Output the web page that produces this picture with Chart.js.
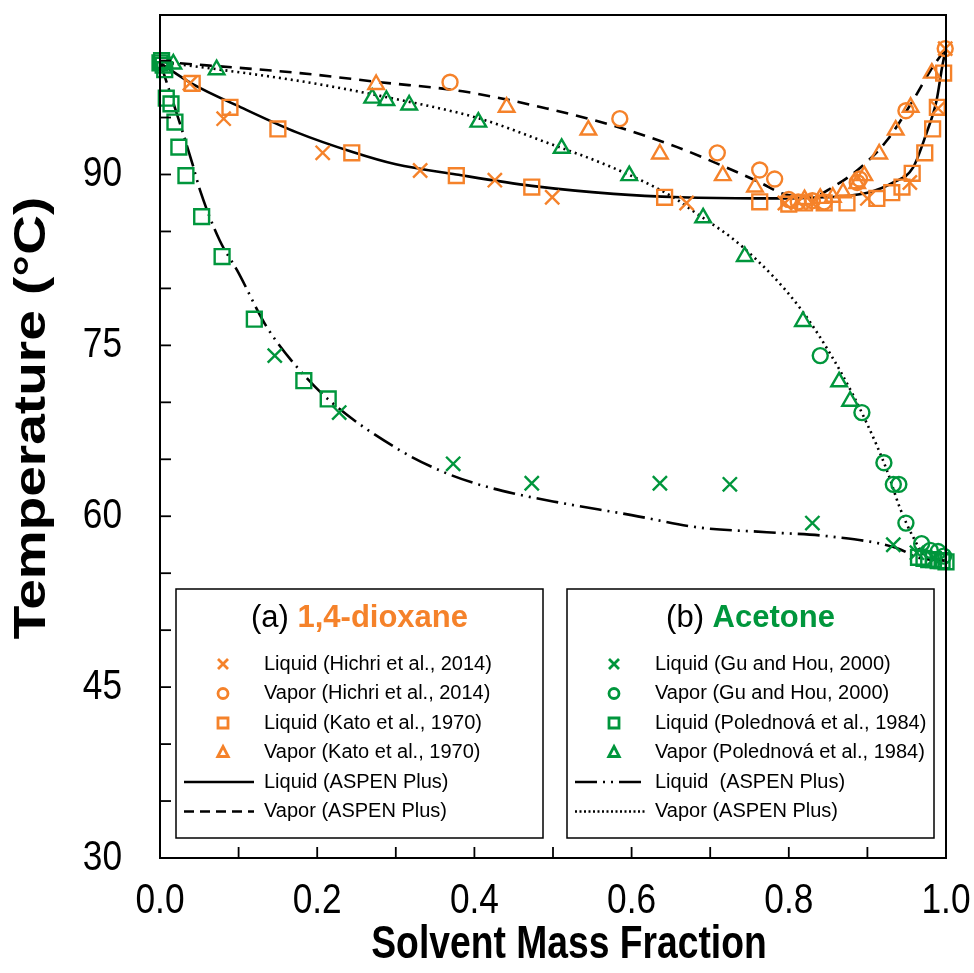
<!DOCTYPE html>
<html><head><meta charset="utf-8">
<script src="https://cdn.jsdelivr.net/npm/chart.js@4.4.1/dist/chart.umd.min.js"></script>
<style>html,body{margin:0;padding:0;background:#fff}#wrap{width:974px;height:973px;position:relative}</style>
</head><body><div id="wrap"><canvas id="c"></canvas></div>
<script>
// ---------- data ----------
const ORANGE = '#F5822A';
const GREEN = '#00963C';

// 1,4-dioxane
const dioxLiqHichriX = [0.038,0.081,0.207,0.331,0.426,0.499,0.670,0.795,0.812,0.830,0.900,0.954,0.990,0.999];
const dioxLiqHichriY = [98.0,94.9,91.9,90.35,89.5,88.0,87.5,87.5,87.6,87.5,87.9,89.3,95.8,101.05];
const dioxVapHichriX = [0.369,0.585,0.709,0.763,0.782,0.800,0.812,0.830,0.845,0.887,0.890,0.949,0.999];
const dioxVapHichriY = [98.1,94.9,91.9,90.4,89.6,87.8,87.6,87.7,87.6,89.3,89.6,95.6,101.05];
const dioxLiqKatoX = [0.041,0.089,0.150,0.244,0.377,0.473,0.642,0.763,0.800,0.820,0.845,0.874,0.912,0.931,0.944,0.957,0.973,0.983,0.989,0.997];
const dioxLiqKatoY = [98.0,95.9,94.0,91.9,89.9,88.9,88.0,87.6,87.4,87.5,87.5,87.5,87.9,88.4,88.9,90.1,91.9,94.0,95.9,98.9];
const dioxVapKatoX = [0.275,0.441,0.545,0.636,0.716,0.757,0.820,0.840,0.856,0.869,0.887,0.896,0.915,0.936,0.955,0.982];
const dioxVapKatoY = [97.9,95.9,93.9,91.8,89.9,88.9,87.8,87.9,88.0,88.4,89.2,89.9,91.8,93.9,95.9,98.9];
const dioxLiqAspenX = [0,0.04,0.106,0.174,0.244,0.30,0.377,0.473,0.577,0.662,0.76,0.82,0.90,0.933,0.958,0.975,0.988,0.995,1.0];
const dioxLiqAspenY = [99.8,98.0,95.8,93.7,92.0,90.9,90.0,89.0,88.3,88.0,87.9,87.95,88.4,89.3,90.6,93.6,96.5,99.4,101.1];
const dioxVapAspenX = [0,0.178,0.28,0.385,0.492,0.576,0.658,0.721,0.763,0.793,0.827,0.856,0.891,0.925,0.958,0.980,1.0];
const dioxVapAspenY = [99.9,98.9,98.1,97.3,95.8,94.3,92.4,90.6,89.3,88.3,88.0,88.9,90.6,93.0,96.5,99.1,101.1];

// acetone
const aceLiqGuX = [0.146,0.228,0.373,0.473,0.636,0.725,0.830,0.933,0.963,0.985];
const aceLiqGuY = [74.1,69.1,64.6,62.9,62.9,62.8,59.4,57.5,56.8,56.3];
const aceVapGuX = [0.840,0.893,0.921,0.933,0.940,0.949,0.969,0.980,0.990,0.997];
const aceVapGuY = [74.1,69.1,64.7,62.8,62.8,59.4,57.6,57.0,56.9,56.5];
const aceLiqPoledX = [0.0,0.002,0.004,0.006,0.008,0.014,0.019,0.024,0.033,0.053,0.079,0.120,0.183,0.214,0.965,0.972,0.978,0.984,0.990,0.995,1.0];
const aceLiqPoledY = [99.8,100.0,99.6,99.2,96.7,96.2,94.6,92.4,89.9,86.3,82.8,77.3,71.9,70.3,56.4,56.3,56.2,56.2,56.1,56.1,56.0];
const aceVapPoledX = [0.017,0.072,0.270,0.288,0.317,0.405,0.511,0.597,0.691,0.744,0.818,0.864,0.878];
const aceVapPoledY = [99.7,99.2,96.7,96.5,96.1,94.6,92.3,89.9,86.2,82.8,77.1,71.8,70.1];
const aceLiqAspenX = [0,0.028,0.041,0.051,0.076,0.098,0.136,0.178,0.22,0.305,0.36,0.4,0.45,0.5,0.6,0.687,0.772,0.856,0.938,0.963,1.0];
const aceLiqAspenY = [99.9,93.9,91.0,88.6,84.2,81.6,76.6,72.8,69.9,65.8,63.9,62.9,62.0,61.3,60.1,59.0,58.6,58.2,57.2,56.4,56.1];
const aceVapAspenX = [0,0.178,0.28,0.407,0.492,0.576,0.653,0.678,0.742,0.814,0.865,0.899,0.925,0.941,0.958,0.975,1.0];
const aceVapAspenY = [99.9,98.2,96.9,94.9,92.8,90.6,88.0,86.8,83.6,78.3,72.8,68.2,64.0,60.8,58.2,56.4,56.1];

const xTickLabels = ['0.0','0.2','0.4','0.6','0.8','1.0'];
const yTickLabels = ['30','45','60','75','90'];
const xTitle = 'Solvent Mass Fraction';
const yTitle = 'Temperature (°C)';

const legendA = {prefix:'(a) ', name:'1,4-dioxane', color:ORANGE, items:[
  {mk:'x',  text:'Liquid (Hichri et al., 2014)'},
  {mk:'o',  text:'Vapor (Hichri et al., 2014)'},
  {mk:'s',  text:'Liquid (Kato et al., 1970)'},
  {mk:'t',  text:'Vapor (Kato et al., 1970)'},
  {ln:[],   text:'Liquid (ASPEN Plus)'},
  {ln:[10,6], text:'Vapor (ASPEN Plus)'}]};
const legendB = {prefix:'(b) ', name:'Acetone', color:GREEN, items:[
  {mk:'x',  text:'Liquid (Gu and Hou, 2000)'},
  {mk:'o',  text:'Vapor (Gu and Hou, 2000)'},
  {mk:'s',  text:'Liquid (Polednová et al., 1984)'},
  {mk:'t',  text:'Vapor (Polednová et al., 1984)'},
  {ln:[22,6,2,6,2,6], text:'Liquid  (ASPEN Plus)'},
  {ln:[2,2.5], text:'Vapor (ASPEN Plus)'}]};

// ---------- helpers ----------
const pts = (xs, ys) => xs.map((x, i) => ({x, y: ys[i]}));
function markers(label, xs, ys, color, style, r) {
  return {type:'scatter', label, data:pts(xs, ys), showLine:false, pointStyle:style, pointRadius:r,
    pointHoverRadius:r, borderColor:color, backgroundColor:'rgba(0,0,0,0)', pointBorderWidth:2.4, borderWidth:2.4, clip:false};
}
function curve(label, xs, ys, dash) {
  return {type:'line', label, data:pts(xs, ys), showLine:true, pointRadius:0, borderColor:'#000', borderWidth:2.6,
    borderDash:dash, cubicInterpolationMode:'monotone', fill:false, clip:false};
}

const FONTW = "'Liberation Sans', Arial, sans-serif";
const SX = 0.84; // horizontal squeeze of the figure's fonts

function sText(ctx, text, x, y, font, sx, align, baseline) {
  ctx.save(); ctx.translate(x, y); ctx.scale(sx, 1);
  ctx.font = font; ctx.textAlign = align; ctx.textBaseline = baseline; ctx.fillStyle = '#000';
  ctx.fillText(text, 0, 0); ctx.restore();
}

const framePlugin = {
  id:'frame',
  afterDraw(chart) {
    const ctx = chart.ctx, a = chart.chartArea;
    const xs = chart.scales.x, ys = chart.scales.y;
    ctx.save();
    ctx.strokeStyle = '#000'; ctx.lineWidth = 2;
    ctx.strokeRect(a.left, a.top, a.right - a.left, a.bottom - a.top);
    ctx.lineWidth = 1.8;
    ys.ticks.forEach(t => { if (t.value <= 100 && t.value > 30) { const p = ys.getPixelForValue(t.value);
      ctx.beginPath(); ctx.moveTo(a.left, p); ctx.lineTo(a.left + 11, p); ctx.stroke(); }});
    xs.ticks.forEach(t => { if (t.value > 0.001 && t.value < 0.999) { const p = xs.getPixelForValue(t.value);
      ctx.beginPath(); ctx.moveTo(p, a.bottom); ctx.lineTo(p, a.bottom - 11); ctx.stroke(); }});
    // tick labels
    ys.ticks.forEach(t => { const lab = yTickLabels.find(s => Number(s) === t.value);
      if (lab) sText(ctx, lab, a.left - 38, ys.getPixelForValue(t.value), '42px ' + FONTW, SX, 'right', 'middle'); });
    xs.ticks.forEach(t => { const k = Math.round(t.value * 10);
      if (k % 2 === 0) sText(ctx, xTickLabels[k / 2], xs.getPixelForValue(t.value), a.bottom + 43, '42px ' + FONTW, SX, 'center', 'middle'); });
    // axis titles
    sText(ctx, xTitle, 569, 945, 'bold 46px ' + FONTW, 0.81, 'center', 'middle');
    ctx.save(); ctx.translate(33, 418); ctx.rotate(-Math.PI / 2); ctx.scale(1, 0.82);
    ctx.font = 'bold 55px ' + FONTW; ctx.textAlign = 'center'; ctx.textBaseline = 'middle'; ctx.fillStyle = '#000';
    ctx.fillText(yTitle, 0, 0); ctx.restore();
    // legends
    drawLegend(ctx, legendA, 176, 589, 543, 838);
    drawLegend(ctx, legendB, 567, 589, 934, 838);
    ctx.restore();
  }
};

function drawMk(ctx, mk, x, y, color, s) {
  ctx.save(); ctx.strokeStyle = color; ctx.lineWidth = 2.8; ctx.beginPath();
  if (mk === 'x') { ctx.moveTo(x - s, y - s); ctx.lineTo(x + s, y + s); ctx.moveTo(x + s, y - s); ctx.lineTo(x - s, y + s); }
  else if (mk === 'o') { ctx.arc(x, y, s, 0, Math.PI * 2); }
  else if (mk === 's') { ctx.rect(x - s, y - s, 2 * s, 2 * s); }
  else if (mk === 't') { ctx.moveTo(x, y - s * 1.2); ctx.lineTo(x + s * 1.05, y + s * 0.8); ctx.lineTo(x - s * 1.05, y + s * 0.8); ctx.closePath(); }
  ctx.stroke(); ctx.restore();
}

function drawLegend(ctx, L, x0, y0, x1, y1) {
  ctx.save();
  ctx.fillStyle = '#fff'; ctx.fillRect(x0, y0, x1 - x0, y1 - y0);
  ctx.strokeStyle = '#000'; ctx.lineWidth = 1.5; ctx.strokeRect(x0, y0, x1 - x0, y1 - y0);
  ctx.textBaseline = 'middle';
  ctx.font = "31px " + FONTW;
  const w1 = ctx.measureText(L.prefix).width;
  ctx.font = "bold 31px " + FONTW;
  const w2 = ctx.measureText(L.name).width;
  const cx = (x0 + x1) / 2, hx = cx - (w1 + w2) / 2, hy = y0 + 29;
  ctx.font = "31px " + FONTW; ctx.fillStyle = '#000'; ctx.textAlign = 'left';
  ctx.fillText(L.prefix, hx, hy);
  ctx.font = "bold 31px " + FONTW; ctx.fillStyle = L.color;
  ctx.fillText(L.name, hx + w1, hy);
  ctx.font = "20px " + FONTW;
  L.items.forEach((it, i) => {
    const ry = y0 + 75 + i * 29.5;
    if (it.mk) drawMk(ctx, it.mk, x0 + 47, ry, L.color, 5);
    if (it.ln) { ctx.save(); ctx.strokeStyle = '#000'; ctx.lineWidth = 2.6; ctx.setLineDash(it.ln);
      ctx.beginPath(); ctx.moveTo(x0 + 8, ry); ctx.lineTo(x0 + 78, ry); ctx.stroke(); ctx.restore(); }
    ctx.fillStyle = '#000';
    ctx.fillText(it.text, x0 + 88, ry);
  });
  ctx.restore();
}

function noPad(s) { s.paddingLeft = 0; s.paddingRight = 0; s.paddingTop = 0; s.paddingBottom = 0; }

new Chart(document.getElementById('c'), {
  data: { datasets: [
    markers('Liquid (Hichri et al., 2014)', dioxLiqHichriX, dioxLiqHichriY, ORANGE, 'crossRot', 10),
    markers('Vapor (Hichri et al., 2014)', dioxVapHichriX, dioxVapHichriY, ORANGE, 'circle', 7.5),
    markers('Liquid (Kato et al., 1970)', dioxLiqKatoX, dioxLiqKatoY, ORANGE, 'rect', 10.5),
    markers('Vapor (Kato et al., 1970)', dioxVapKatoX, dioxVapKatoY, ORANGE, 'triangle', 9),
    markers('Liquid (Gu and Hou, 2000)', aceLiqGuX, aceLiqGuY, GREEN, 'crossRot', 10),
    markers('Vapor (Gu and Hou, 2000)', aceVapGuX, aceVapGuY, GREEN, 'circle', 7.5),
    markers('Liquid (Polednová et al., 1984)', aceLiqPoledX, aceLiqPoledY, GREEN, 'rect', 10.5),
    markers('Vapor (Polednová et al., 1984)', aceVapPoledX, aceVapPoledY, GREEN, 'triangle', 9),
    curve('Liquid (ASPEN Plus) dioxane', dioxLiqAspenX, dioxLiqAspenY, []),
    curve('Vapor (ASPEN Plus) dioxane', dioxVapAspenX, dioxVapAspenY, [12, 8]),
    curve('Liquid (ASPEN Plus) acetone', aceLiqAspenX, aceLiqAspenY, [22, 6, 2, 6, 2, 6]),
    curve('Vapor (ASPEN Plus) acetone', aceVapAspenX, aceVapAspenY, [2, 4])
  ]},
  options: {
    responsive:true, maintainAspectRatio:false, animation:false,
    layout:{padding:{top:15, right:28, left:0, bottom:0}},
    plugins:{legend:{display:false}, tooltip:{enabled:false}},
    scales:{
      x:{type:'linear', min:0, max:1,
        grid:{display:false, drawTicks:false}, border:{display:false},
        ticks:{display:false, stepSize:0.1},
        title:{display:false},
        afterFit:(s) => { s.height = 115; noPad(s); }},
      y:{type:'linear', min:30, max:104,
        grid:{display:false, drawTicks:false}, border:{display:false},
        ticks:{display:false, stepSize:5},
        title:{display:false},
        afterFit:(s) => { s.width = 160; noPad(s); }}
    }
  },
  plugins:[framePlugin]
});
</script></body></html>
